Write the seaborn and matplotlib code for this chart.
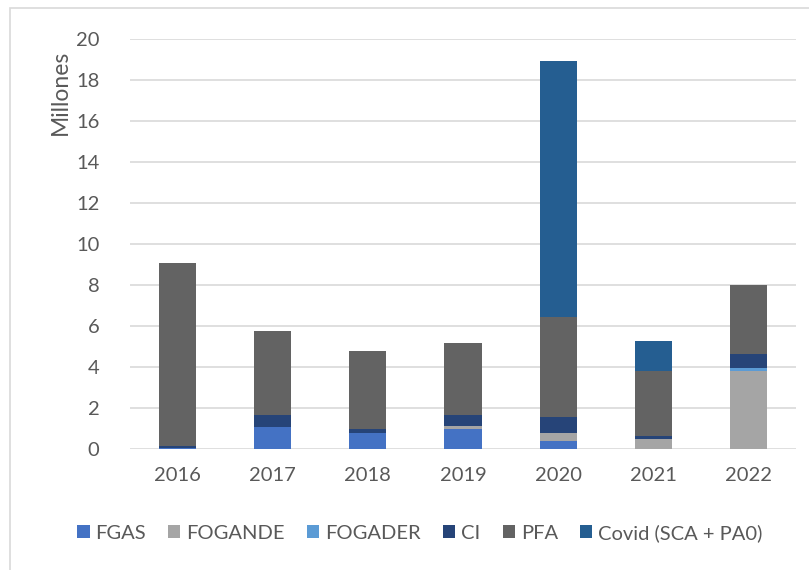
import numpy as np
import pandas as pd
import matplotlib
matplotlib.use('Agg')
import matplotlib.pyplot as plt
from matplotlib.patches import Rectangle, Patch
import seaborn as sns

# Data (millones)
years = ['2016', '2017', '2018', '2019', '2020', '2021', '2022']
fgas = [0.03, 1.08, 0.80, 0.99, 0.40, 0.00, 0.00]
fogande = [0.00, 0.00, 0.00, 0.11, 0.39, 0.50, 3.81]
fogader = [0.00, 0.00, 0.00, 0.00, 0.00, 0.00, 0.12]
ci = [0.10, 0.57, 0.19, 0.57, 0.78, 0.12, 0.68]
pfa = [8.96, 4.11, 3.79, 3.50, 4.87, 3.19, 3.39]
covid = [0.00, 0.00, 0.00, 0.00, 12.49, 1.46, 0.00]

series = ['FGAS', 'FOGANDE', 'FOGADER', 'CI', 'PFA', 'Covid (SCA + PA0)']
values = [fgas, fogande, fogader, ci, pfa, covid]
colors = ['#4472C4', '#A5A5A5', '#5B9BD5', '#264478', '#636363', '#255E91']

sns.set_style('white')
plt.rcParams['font.family'] = ['Lato', 'DejaVu Sans']
text_col = '#595959'

df = pd.DataFrame({'year': years})
cum = np.zeros(len(years))
for name, vals in zip(series, values):
    cum = cum + np.array(vals)
    df[name] = cum

fig = plt.figure(figsize=(8.09, 5.70), dpi=100)
ax = fig.add_axes([130 / 809, 1 - 449 / 570, 666 / 809, 410 / 570])

# draw cumulative totals from the top series down so they stack visually
for name, col in reversed(list(zip(series, colors))):
    sns.barplot(data=df, x='year', y=name, color=col, width=0.39,
                saturation=1, ax=ax, zorder=3, edgecolor='none')

ax.set_ylim(0, 20)
ax.set_yticks(range(0, 21, 2))
ax.set_xlim(-0.5, 6.5)
ax.grid(axis='y', color='#D9D9D9', linewidth=1.2, zorder=0)
ax.set_axisbelow(True)
for s in ax.spines.values():
    s.set_visible(False)
ax.set_xlabel('')
ax.set_ylabel('')
ax.tick_params(axis='y', length=0, pad=22, labelsize=14.5, labelcolor=text_col)
ax.tick_params(axis='x', length=0, pad=13, labelsize=14.5, labelcolor=text_col)

fig.text(60 / 809, 1 - 92 / 570, 'Millones', rotation=90, ha='center',
         va='center', fontsize=16.5, color=text_col)

handles = [Patch(facecolor=c, edgecolor='none') for c in colors]
fig.legend(handles, series, loc='center', bbox_to_anchor=(420 / 809, 1 - 533 / 570),
           ncol=6, frameon=False, fontsize=14.5, labelcolor=text_col,
           handlelength=0.6, handleheight=0.6, handletextpad=0.3, columnspacing=1.1)

# chart border (partly outside the canvas)
fig.patches.append(Rectangle((10 / 809, -0.1), 1.2, 1.1 - 8 / 570, transform=fig.transFigure,
                             fill=False, edgecolor='#D9D9D9', linewidth=1.2))

fig.savefig('out.png', dpi=100)
